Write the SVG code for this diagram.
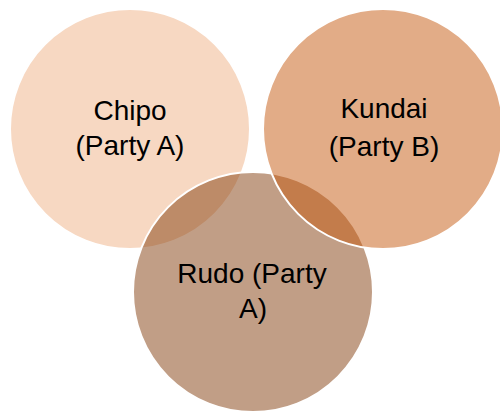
<svg xmlns="http://www.w3.org/2000/svg" width="500" height="414" viewBox="0 0 500 414">
<style>
.c{stroke:#fff;stroke-width:2;fill-opacity:0.5}
.t{font-family:"Liberation Sans",Arial,sans-serif;font-size:28px;fill:#000;text-anchor:middle}
</style>
<rect width="500" height="414" fill="#fff"/>
<g id="chipo">
<circle class="c" cx="130" cy="129" r="120" fill="#EFB185"/>
</g>
<g id="rudo">
<circle class="c" cx="253" cy="292" r="120" fill="#833D0D"/>
</g>
<g id="kundai">
<circle class="c" cx="383" cy="129" r="120" fill="#C5590F"/>
</g>
<g id="labels">
<text class="t" x="130" y="120">Chipo</text>
<text class="t" x="130" y="155">(Party A)</text>
<text class="t" x="384" y="118">Kundai</text>
<text class="t" x="384" y="156">(Party B)</text>
<text class="t" x="252" y="283">Rudo (Party</text>
<text class="t" x="253" y="318">A)</text>
</g>
<g id="connectors"></g>
</svg>
